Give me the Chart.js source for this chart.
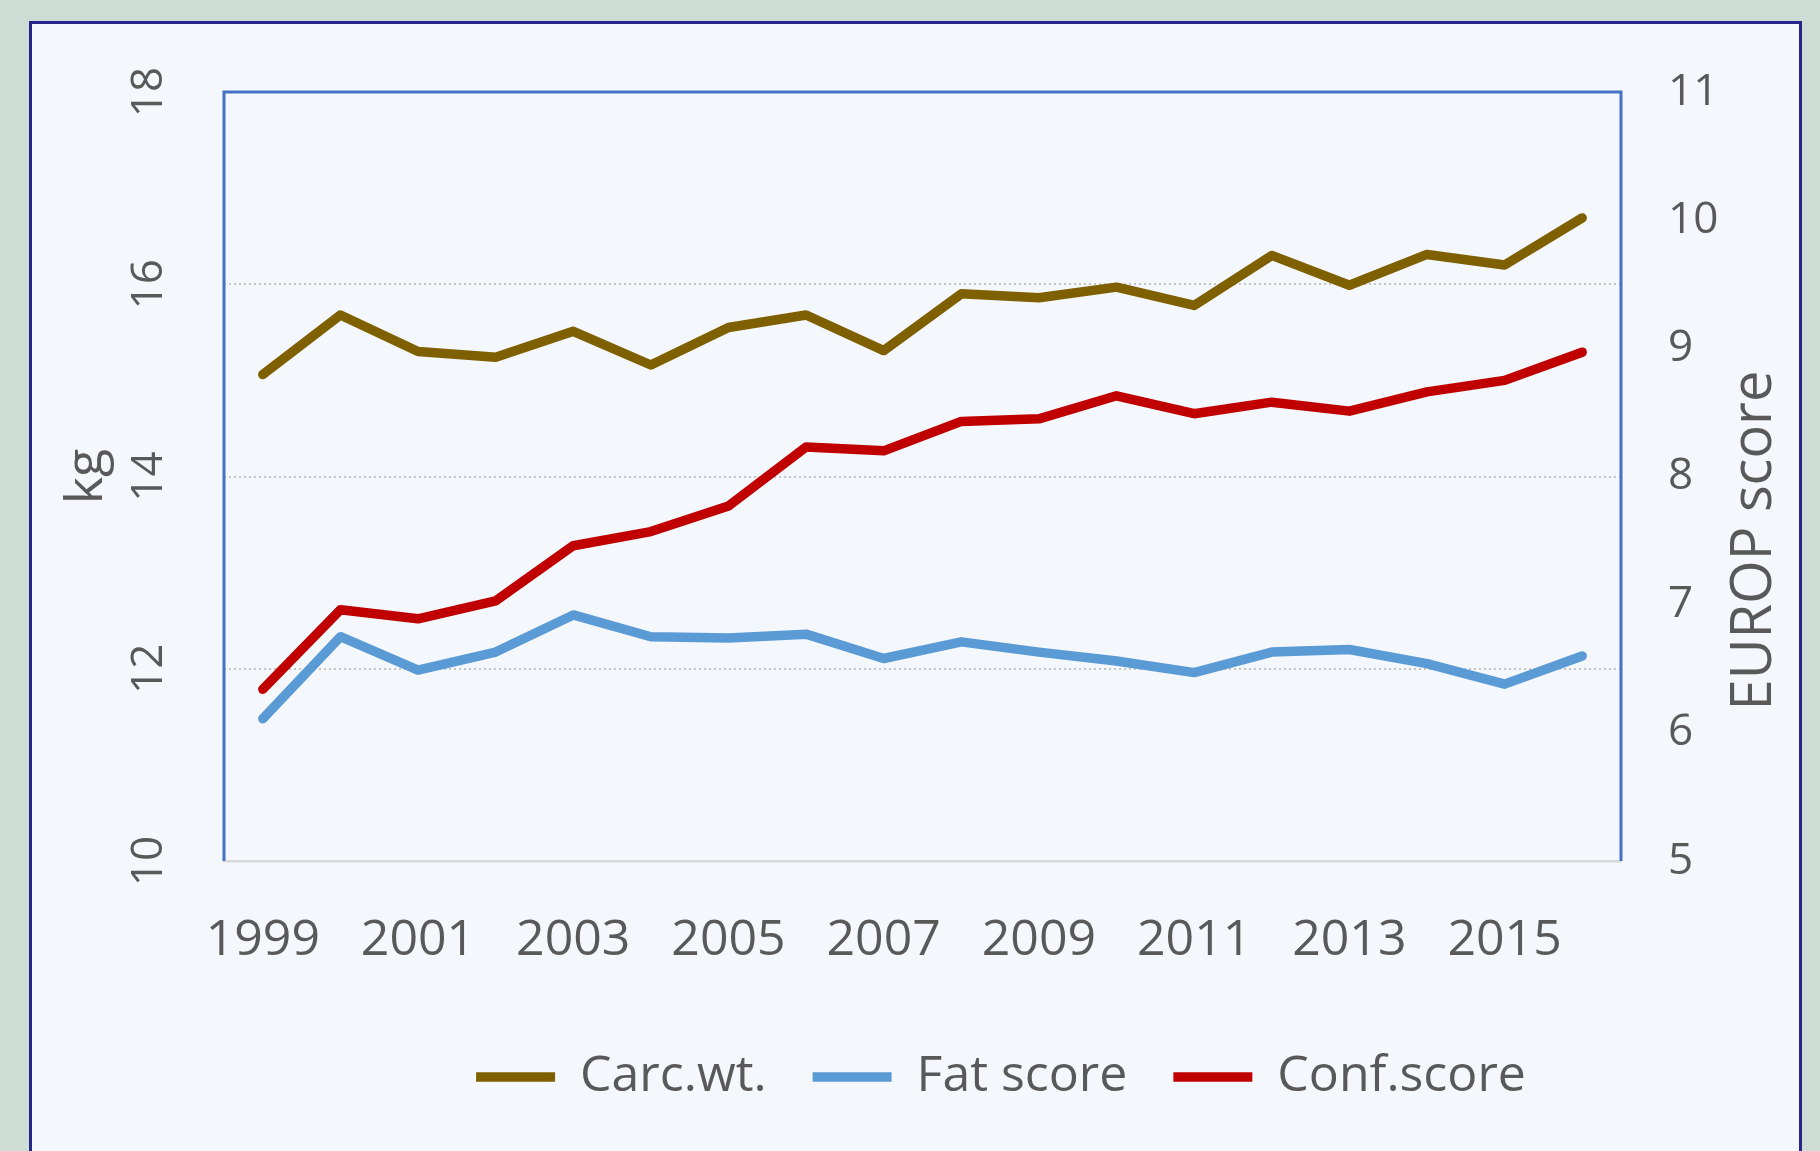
<!DOCTYPE html>
<html>
<head>
<meta charset="utf-8">
<script src="https://cdn.jsdelivr.net/npm/chart.js@4.4.1/dist/chart.umd.min.js"></script>
<style>
  html, body { margin: 0; padding: 0; }
  body { width: 1820px; height: 1151px; background: #cddcd5; overflow: hidden; position: relative; }
  .panel { position: absolute; left: 29px; top: 21px; width: 1773px; height: 1200px; box-sizing: border-box; border: 3px solid #26268a; background: #f4f7fc; }
  .wrap { position: absolute; left: 0; top: 0; width: 1820px; height: 1151px; }
</style>
</head>
<body>
<div class="panel"></div>
<div class="wrap"><canvas id="chart" width="1820" height="1151"></canvas></div>
<script>
const years = ['1999','2000','2001','2002','2003','2004','2005','2006','2007','2008','2009','2010','2011','2012','2013','2014','2015','2016'];
const shownYears = ['1999','2001','2003','2005','2007','2009','2011','2013','2015'];
const carcWt = [15.06, 15.68, 15.30, 15.24, 15.51, 15.16, 15.55, 15.68, 15.31, 15.90, 15.86, 15.97, 15.78, 16.30, 15.99, 16.31, 16.20, 16.69];
const fatScore = [6.11, 6.75, 6.49, 6.63, 6.92, 6.75, 6.74, 6.77, 6.58, 6.71, 6.63, 6.56, 6.47, 6.63, 6.65, 6.54, 6.38, 6.60];
const confScore = [6.34, 6.96, 6.89, 7.03, 7.46, 7.57, 7.77, 8.23, 8.20, 8.43, 8.45, 8.63, 8.49, 8.58, 8.51, 8.66, 8.75, 8.97];
const kgTicks = [10, 12, 14, 16, 18];
const scoreTicks = [5, 6, 7, 8, 9, 10, 11];

Chart.defaults.font.family = "'Open Sans', sans-serif";
Chart.defaults.color = '#595959';

// blue frame on top / left / right of the plot
const plotFrame = {
  id: 'plotFrame',
  beforeDatasetsDraw(chart) {
    const {ctx, chartArea: a} = chart;
    ctx.save();
    ctx.strokeStyle = '#4472c4';
    ctx.lineWidth = 3;
    ctx.beginPath();
    ctx.moveTo(a.left, a.bottom);
    ctx.lineTo(a.left, a.top);
    ctx.lineTo(a.right, a.top);
    ctx.lineTo(a.right, a.bottom);
    ctx.stroke();
    ctx.restore();
  }
};

// right axis title reads bottom to top and sits a bit low
const rightTitle = {
  id: 'rightTitle',
  afterDraw(chart) {
    const {ctx, chartArea: a} = chart;
    const s = chart.scales.y1;
    ctx.save();
    ctx.translate(s.left + 134, (a.top + a.bottom) / 2 + 64);
    ctx.rotate(-Math.PI / 2);
    ctx.font = "56px 'Open Sans', sans-serif";
    ctx.fillStyle = '#595959';
    ctx.textAlign = 'center';
    ctx.textBaseline = 'middle';
    ctx.fillText('EUROP score', 0, 0);
    ctx.restore();
  }
};

// legend is centred a little right of the page centre
const legendShift = {
  id: 'legendShift',
  afterLayout(chart) {
    chart.legend.left += 71;
    chart.legend.right += 71;
  }
};

const line = (label, data, color, axis) => ({
  label: label,
  data: data,
  yAxisID: axis,
  borderColor: color,
  backgroundColor: color,
  borderWidth: 9.5,
  pointRadius: 0,
  borderCapStyle: 'round',
  borderJoinStyle: 'round',
  tension: 0
});

new Chart(document.getElementById('chart'), {
  type: 'line',
  data: {
    labels: years,
    datasets: [
      line('Carc.wt.', carcWt, '#7f6000', 'y'),
      line('Fat score', fatScore, '#5b9bd5', 'y1'),
      line('Conf.score', confScore, '#c00000', 'y1')
    ]
  },
  options: {
    responsive: false,
    animation: false,
    layout: { padding: { left: 40, right: 0, top: 92, bottom: 39 } },
    scales: {
      x: {
        offset: true,
        grid: { display: false, drawTicks: false },
        border: { color: '#d9d9d9', width: 2.5 },
        ticks: {
          autoSkip: false,
          maxRotation: 0,
          padding: 50,
          font: { size: 50 },
          callback: (v, i) => shownYears.includes(years[i]) ? years[i] : ''
        },
        afterFit: s => { s.height = 145 }
      },
      y: {
        position: 'left',
        min: kgTicks[0],
        max: kgTicks[kgTicks.length - 1],
        afterBuildTicks: s => { s.ticks = kgTicks.map(v => ({ value: v })) },
        grid: {
          drawTicks: false,
          lineWidth: 2,
          color: c => (c.tick && c.tick.value > 10 && c.tick.value < 18) ? '#c4c4c4' : 'rgba(0,0,0,0)'
        },
        border: { display: false, dash: [2, 3] },
        ticks: {
          minRotation: 90,
          maxRotation: 90,
          crossAlign: 'center',
          padding: 49,
          font: { size: 44 }
        },
        title: { display: true, text: 'kg', font: { size: 52 }, padding: { top: 16, bottom: 0 } },
        afterFit: s => { s.width = 184 }
      },
      y1: {
        position: 'right',
        min: scoreTicks[0],
        max: scoreTicks[scoreTicks.length - 1],
        afterBuildTicks: s => { s.ticks = scoreTicks.map(v => ({ value: v })) },
        grid: { display: false, drawTicks: false },
        border: { display: false },
        ticks: { padding: 47, font: { size: 44 } },
        afterFit: s => { s.width = 199 }
      }
    },
    plugins: {
      legend: {
        display: true,
        position: 'bottom',
        labels: {
          usePointStyle: true,
          pointStyle: 'line',
          pointStyleWidth: 79,
          padding: 46,
          color: '#595959',
          font: { size: 50 }
        }
      },
      tooltip: { enabled: false }
    }
  },
  plugins: [plotFrame, rightTitle, legendShift]
});
</script>
</body>
</html>
